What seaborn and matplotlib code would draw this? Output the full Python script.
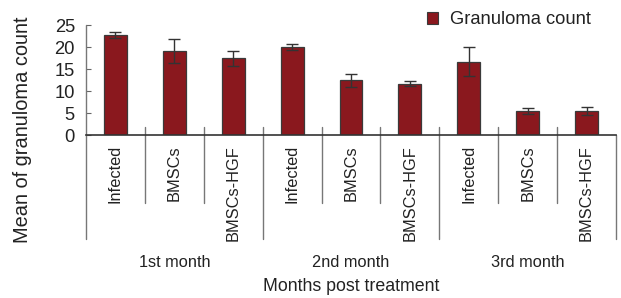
import matplotlib
matplotlib.use("Agg")
import matplotlib.pyplot as plt
from matplotlib.patches import Patch
import seaborn as sns
import pandas as pd

months = ["1st month", "2nd month", "3rd month"]
groups = ["Infected", "BMSCs", "BMSCs-HGF"]
means = [22.8, 19.1, 17.4, 20.0, 12.4, 11.7, 16.7, 5.5, 5.4]
errs = [0.7, 2.8, 1.8, 0.7, 1.5, 0.55, 3.3, 0.75, 0.9]
ylabel = "Mean of granuloma count"
xlabel = "Months post treatment"
legend_label = "Granuloma count"
yticks = [0, 5, 10, 15, 20, 25]

sns.set_style("white")
plt.rcParams["font.family"] = ["Liberation Sans", "DejaVu Sans"]

keys = [f"{m}|{g}" for m in months for g in groups]
df = pd.DataFrame({"key": keys, "value": means})

W, H = 621, 298
fig = plt.figure(figsize=(W / 100, H / 100), dpi=100)
ax = fig.add_axes([86 / W, (H - 135) / H, 530 / W, 110 / H])

bar_color = "#8a181e"
txt = "#222222"
sns.barplot(data=df, x="key", y="value", order=keys, color=bar_color,
            saturation=1, width=0.39, edgecolor="#3a3a3a", linewidth=0.9,
            errorbar=None, ax=ax)
ax.errorbar(range(len(keys)), means, yerr=errs, fmt="none", ecolor="#333333",
            elinewidth=1.0, capsize=4.5, capthick=1.0, zorder=5)

ax.set_xlim(-0.5, len(keys) - 0.5)
ax.set_ylim(0, 25)
ax.set_yticks(yticks)
ax.set_xticks([])
ax.set_xlabel("")
ax.set_ylabel("")
for s in ["top", "right", "left"]:
    ax.spines[s].set_visible(False)
ax.spines["bottom"].set_color("#333333")
ax.spines["bottom"].set_linewidth(1.2)
ax.tick_params(axis="y", direction="in", length=3.6, width=0.8, color="#666666",
               pad=8, labelsize=13.2, labelcolor=txt, left=True)

tr = ax.get_xaxis_transform()
gray = "#777777"
ax.plot([0, 0], [1, -0.945], transform=ax.transAxes, color=gray, lw=1, clip_on=False)
for i in range(len(keys)):
    xpos = i + 0.5
    if i == len(keys) - 1:
        ax.plot([xpos, xpos], [0, -0.945], transform=tr, color=gray, lw=1, clip_on=False)
    elif (i + 1) % 3 == 0:
        ax.plot([xpos, xpos], [0.073, -0.945], transform=tr, color=gray, lw=1, clip_on=False)
    else:
        ax.plot([xpos, xpos], [0.073, -0.618], transform=tr, color=gray, lw=1, clip_on=False)

for i, k in enumerate(keys):
    g = k.split("|")[1]
    ax.text(i, -0.09, g, transform=tr, rotation=90, ha="center", va="top",
            fontsize=11.8, color=txt)
for j, m in enumerate(months):
    ax.text(j * 3 + 1, -1.155, m, transform=tr, ha="center", va="center",
            fontsize=11.8, color=txt)
ax.text(4, -1.38, xlabel, transform=tr, ha="center", va="center",
        fontsize=12.8, color=txt)

fig.text(23 / W, 1 - 130 / H, ylabel, rotation=90, ha="center", va="center",
         fontsize=14.4, color=txt)

handle = Patch(facecolor=bar_color, edgecolor="#3a3a3a", linewidth=0.8)
fig.legend(handles=[handle], labels=[legend_label], loc="center left",
           bbox_to_anchor=(427 / W, 1 - 20 / H), frameon=False, fontsize=13.2,
           handlelength=0.62, handleheight=0.62, handletextpad=0.65,
           borderpad=0, borderaxespad=0, labelcolor=txt)

fig.savefig("out.png", dpi=100)
